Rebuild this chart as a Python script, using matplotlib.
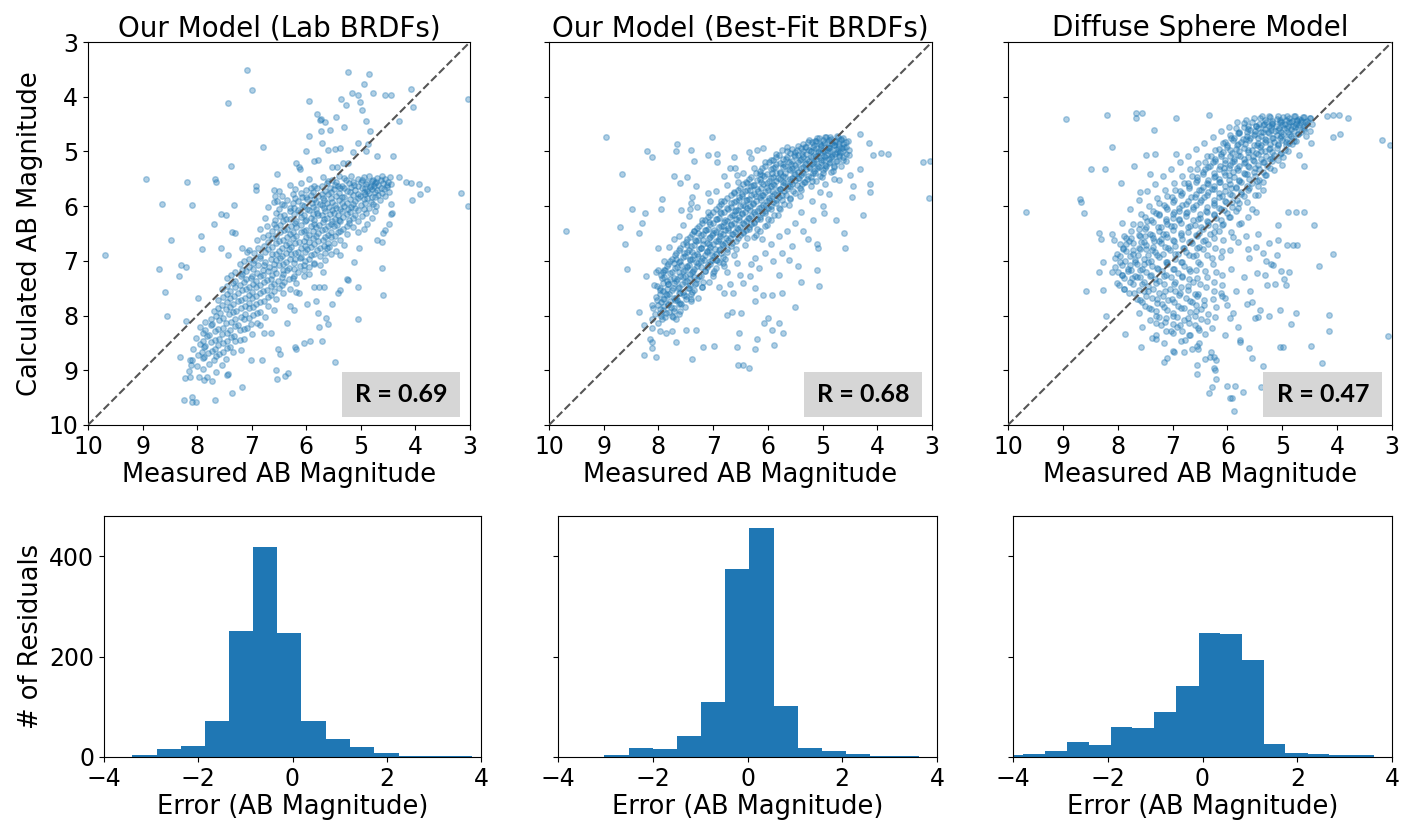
import numpy as np
import matplotlib
matplotlib.use('Agg')
from matplotlib import pyplot as plt
from matplotlib.patches import Rectangle

titles = ['Our Model (Lab BRDFs)', 'Our Model (Best-Fit BRDFs)', 'Diffuse Sphere Model']
r_values = ['0.69', '0.68', '0.47']
mag_ticks = [3, 4, 5, 6, 7, 8, 9, 10]
err_ticks = [-4, -2, 0, 2, 4]
count_ticks = [0, 200, 400]

# (measured, calculated) magnitudes
lab_pts = [
    (7.08, 3.52), (6.99, 3.87), (7.44, 4.12), (5.23, 3.54), (4.85, 3.58), (4.95, 3.77), (4.08, 3.86), (3.04, 4.04),
    (4.56, 3.96), (4.45, 3.96), (4.04, 4.18), (4.78, 3.93), (5.16, 3.93), (5.05, 3.97), (5.36, 4.05), (5.02, 4.10),
    (5.28, 4.16), (5.95, 4.07), (4.97, 4.24), (4.91, 4.44), (4.83, 4.63), (5.73, 4.40), (5.75, 4.43), (5.66, 4.46),
    (5.80, 4.31), (5.46, 4.37), (5.56, 4.60), (5.30, 4.55), (5.95, 4.72), (5.73, 4.63), (5.72, 4.85), (5.61, 4.98),
    (5.48, 4.96), (5.39, 4.94), (5.05, 4.84), (5.14, 5.01), (6.00, 5.00), (4.87, 4.86), (4.71, 5.08), (4.41, 5.08),
    (4.30, 4.44), (6.79, 4.91), (4.91, 5.00),
    (7.38, 5.27), (8.93, 5.50), (8.18, 5.55), (7.67, 5.50), (7.65, 5.55), (8.65, 5.96), (8.09, 5.97), (7.32, 5.97),
    (7.70, 6.32), (7.57, 6.14), (7.48, 6.17), (6.92, 5.63), (6.92, 5.71), (6.53, 5.41), (6.19, 5.22), (6.14, 5.29),
    (6.12, 5.32), (5.86, 5.18), (5.78, 5.16), (5.52, 5.29), (5.43, 5.29), (5.33, 5.22), (5.23, 5.22), (4.17, 5.56),
    (4.09, 5.57), (3.93, 5.59), (3.78, 5.68), (4.30, 5.47), (3.92, 5.78), (4.06, 5.89), (3.16, 5.76), (3.03, 6.00),
    (4.44, 5.96), (4.44, 6.14), (4.48, 6.32), (6.60, 5.71), (6.57, 5.82), (6.54, 5.91), (7.36, 6.48), (7.31, 6.49),
    (8.48, 6.62), (7.93, 6.55), (7.92, 6.79), (7.57, 6.77), (7.43, 6.90), (7.17, 6.77), (7.09, 6.83),
    (9.68, 6.90), (8.69, 7.15), (8.29, 7.07), (8.21, 7.11), (8.34, 7.28), (8.59, 7.57), (8.55, 8.01), (7.99, 7.68),
    (8.20, 8.10), (8.32, 8.76), (8.14, 8.81), (8.11, 8.90), (8.23, 9.15), (8.13, 9.12), (7.96, 9.12), (7.87, 9.17),
    (8.25, 9.54), (8.10, 9.58), (8.02, 9.58), (8.09, 9.48), (7.67, 9.54), (7.37, 9.42), (7.18, 9.31), (7.44, 9.06),
    (7.73, 9.20), (6.56, 8.99), (6.53, 9.16), (6.39, 9.11), (6.33, 9.05), (6.51, 8.62), (6.48, 8.71), (6.21, 8.57),
    (6.19, 8.61), (6.04, 8.50), (5.93, 8.46), (5.72, 8.46), (5.48, 8.85), (5.76, 8.21), (5.61, 8.15), (5.06, 8.06),
    (5.63, 8.04), (5.78, 7.95), (5.98, 7.78), (5.83, 7.74), (5.53, 7.78), (5.42, 7.59), (5.38, 7.54), (5.26, 7.34),
    (5.06, 7.48), (4.61, 7.13), (4.59, 7.63), (4.61, 6.65), (5.12, 7.03), (5.38, 6.90), (5.69, 7.21), (5.86, 7.47),
    (5.76, 7.47), (5.67, 7.47), (6.18, 7.57), (6.13, 7.59), (6.36, 8.14), (6.65, 8.31), (6.77, 8.31), (7.01, 8.81),
    (6.82, 8.81), (4.71, 6.62), (4.59, 6.49), (4.55, 6.43), (4.43, 6.13), (5.03, 6.77), (5.23, 7.35), (6.30, 7.82),
    (6.22, 7.90),
    (5.95, 5.50), (5.70, 5.46), (5.52, 5.52), (5.40, 5.45), (5.30, 5.49), (5.18, 5.44), (5.05, 5.51), (4.95, 5.47),
    (4.85, 5.45), (4.78, 5.52), (4.70, 5.48), (4.62, 5.44), (4.55, 5.50), (4.47, 5.46),
    (5.60, 5.54), (5.45, 5.56), (5.28, 5.53), (5.15, 5.55), (4.98, 5.53), (4.88, 5.56), (4.80, 5.54), (4.72, 5.55),
    (4.64, 5.53), (4.50, 5.55),
    (6.30, 5.62), (6.10, 5.58), (5.85, 5.63), (5.62, 5.57), (5.48, 5.61), (5.35, 5.64), (5.22, 5.58), (5.12, 5.62),
    (5.00, 5.56), (4.90, 5.60), (4.82, 5.63), (4.75, 5.58), (4.68, 5.61), (4.60, 5.57), (4.52, 5.62), (4.45, 5.59),
    (5.92, 5.66), (5.72, 5.64), (5.56, 5.66), (5.42, 5.63), (5.30, 5.67), (5.18, 5.65), (5.05, 5.64), (4.93, 5.66),
    (4.84, 5.65), (4.76, 5.64), (4.63, 5.66), (4.53, 5.65),
    (6.50, 5.72), (6.20, 5.68), (6.00, 5.71), (5.80, 5.67), (5.65, 5.73), (5.50, 5.69), (5.38, 5.66), (5.25, 5.72),
    (5.10, 5.70), (4.98, 5.67), (4.88, 5.73), (4.80, 5.69), (4.70, 5.71), (4.58, 5.68), (4.48, 5.74),
    (6.10, 5.76), (5.88, 5.74), (5.72, 5.77), (5.55, 5.75), (5.40, 5.76), (5.20, 5.74), (5.05, 5.77), (4.94, 5.75),
    (4.85, 5.76), (4.74, 5.74), (4.62, 5.76),
    (6.45, 5.81), (6.25, 5.78), (6.08, 5.83), (5.92, 5.79), (5.78, 5.82), (5.60, 5.77), (5.45, 5.81), (5.30, 5.84),
    (5.15, 5.79), (5.02, 5.82), (4.92, 5.78), (4.80, 5.83), (4.68, 5.80), (4.55, 5.82),
    (6.20, 5.86), (6.00, 5.84), (5.85, 5.87), (5.70, 5.85), (5.55, 5.86), (5.35, 5.84), (5.20, 5.87), (5.05, 5.85),
    (4.88, 5.86), (4.75, 5.84),
    (6.60, 5.92), (6.35, 5.88), (6.15, 5.91), (5.98, 5.87), (5.82, 5.93), (5.68, 5.89), (5.52, 5.92), (5.40, 5.88),
    (5.25, 5.94), (5.10, 5.90), (4.95, 5.87), (4.82, 5.92), (4.65, 5.89),
    (6.45, 5.96), (6.25, 5.94), (6.08, 5.97), (5.90, 5.95), (5.75, 5.96), (5.62, 5.94), (5.48, 5.97), (5.34, 5.95),
    (5.15, 5.96), (4.92, 5.94), (4.78, 5.96),
    (6.70, 6.01), (6.40, 5.98), (6.22, 6.03), (6.05, 5.99), (5.88, 6.02), (5.72, 5.97), (5.58, 6.01), (5.45, 6.04),
    (5.30, 5.99), (5.18, 6.02), (5.00, 5.98), (4.85, 6.03), (4.72, 6.00),
    (6.50, 6.06), (6.30, 6.04), (6.15, 6.07), (5.98, 6.05), (5.82, 6.06), (5.68, 6.04), (5.52, 6.07), (5.38, 6.05),
    (5.24, 6.06), (5.10, 6.04), (4.95, 6.06),
    (6.55, 6.12), (6.30, 6.08), (6.12, 6.11), (5.95, 6.07), (5.80, 6.13), (5.65, 6.09), (5.50, 6.12), (5.35, 6.08),
    (5.20, 6.11), (5.05, 6.07), (4.90, 6.12), (4.75, 6.09),
    (6.40, 6.16), (6.22, 6.14), (6.05, 6.17), (5.88, 6.15), (5.72, 6.16), (5.56, 6.14), (5.42, 6.17), (5.26, 6.15),
    (5.10, 6.16),
    (6.75, 6.21), (6.48, 6.18), (6.30, 6.23), (6.10, 6.19), (5.92, 6.22), (5.78, 6.17), (5.62, 6.21), (5.48, 6.24),
    (5.32, 6.19), (5.15, 6.22), (4.98, 6.18), (4.80, 6.21),
    (6.58, 6.26), (6.38, 6.24), (6.18, 6.27), (6.00, 6.25), (5.85, 6.26), (5.68, 6.24), (5.52, 6.27), (5.40, 6.25),
    (5.22, 6.26),
    (6.60, 6.32), (6.42, 6.28), (6.20, 6.31), (6.02, 6.27), (5.85, 6.33), (5.70, 6.29), (5.55, 6.32), (5.38, 6.28),
    (5.22, 6.31), (5.05, 6.27), (4.88, 6.32),
    (6.72, 6.36), (6.48, 6.34), (6.28, 6.37), (6.10, 6.35), (5.92, 6.36), (5.76, 6.34), (5.60, 6.37), (5.44, 6.35),
    (5.26, 6.36),
    (6.85, 6.41), (6.55, 6.38), (6.35, 6.42), (6.18, 6.39), (6.00, 6.43), (5.82, 6.38), (5.66, 6.41), (5.50, 6.37),
    (5.32, 6.42), (5.15, 6.39), (4.95, 6.41),
    (6.62, 6.46), (6.40, 6.44), (6.24, 6.47), (6.05, 6.45), (5.88, 6.46), (5.72, 6.44), (5.55, 6.47), (5.38, 6.45),
    (6.70, 6.52), (6.48, 6.48), (6.30, 6.51), (6.10, 6.47), (5.95, 6.53), (5.78, 6.49), (5.60, 6.52), (5.42, 6.48),
    (5.25, 6.51), (5.05, 6.47),
    (6.80, 6.56), (6.55, 6.54), (6.36, 6.57), (6.18, 6.55), (6.00, 6.56), (5.82, 6.54), (5.65, 6.57), (5.48, 6.55),
    (6.90, 6.61), (6.62, 6.58), (6.42, 6.62), (6.25, 6.59), (6.05, 6.63), (5.88, 6.58), (5.70, 6.61), (5.55, 6.57),
    (5.38, 6.62),
    (6.70, 6.66), (6.50, 6.64), (6.32, 6.67), (6.14, 6.65), (5.95, 6.66), (5.78, 6.64), (5.60, 6.67),
    (6.78, 6.72), (6.55, 6.68), (6.38, 6.71), (6.20, 6.67), (6.02, 6.73), (5.85, 6.69), (5.68, 6.72), (5.50, 6.68),
    (5.30, 6.71),
    (6.88, 6.76), (6.62, 6.74), (6.45, 6.77), (6.28, 6.75), (6.10, 6.76), (5.92, 6.74), (5.75, 6.77), (5.58, 6.75),
    (7.05, 6.81), (6.70, 6.78), (6.50, 6.82), (6.32, 6.79), (6.15, 6.83), (5.98, 6.78), (5.80, 6.81), (5.62, 6.77),
    (5.45, 6.82),
    (6.95, 6.86), (6.75, 6.84), (6.55, 6.87), (6.38, 6.85), (6.20, 6.86), (6.02, 6.84), (5.85, 6.87), (5.65, 6.85),
    (6.85, 6.92), (6.62, 6.88), (6.45, 6.91), (6.28, 6.87), (6.10, 6.93), (5.92, 6.89), (5.75, 6.92), (5.55, 6.88),
    (7.05, 6.96), (6.85, 6.94), (6.65, 6.97), (6.48, 6.95), (6.30, 6.96), (6.12, 6.94), (5.95, 6.97),
    (7.15, 7.01), (6.95, 6.98), (6.75, 7.03), (6.55, 6.99), (6.38, 7.02), (6.20, 6.97), (6.02, 7.01), (5.85, 7.04),
    (5.65, 6.99),
    (7.22, 7.06), (6.98, 7.04), (6.78, 7.07), (6.60, 7.05), (6.42, 7.06), (6.22, 7.04), (6.05, 7.07), (5.85, 7.05),
    (7.05, 7.12), (6.88, 7.08), (6.68, 7.11), (6.50, 7.07), (6.32, 7.13), (6.12, 7.09), (5.95, 7.12), (5.75, 7.08),
    (7.18, 7.16), (6.98, 7.14), (6.80, 7.17), (6.60, 7.15), (6.42, 7.16), (6.22, 7.14), (6.05, 7.17),
    (7.30, 7.21), (7.10, 7.18), (6.90, 7.23), (6.70, 7.19), (6.55, 7.22), (6.35, 7.17), (6.15, 7.21), (5.95, 7.24),
    (7.38, 7.26), (7.18, 7.24), (7.00, 7.27), (6.80, 7.25), (6.62, 7.26), (6.42, 7.24), (6.22, 7.27),
    (7.45, 7.32), (7.20, 7.28), (7.02, 7.31), (6.85, 7.27), (6.65, 7.33), (6.45, 7.29), (6.25, 7.32), (6.05, 7.28),
    (7.30, 7.36), (7.10, 7.34), (6.92, 7.37), (6.72, 7.35), (6.52, 7.36), (6.32, 7.34),
    (7.35, 7.41), (7.15, 7.38), (6.98, 7.42), (6.78, 7.39), (6.60, 7.43), (6.40, 7.38), (6.18, 7.41),
    (7.45, 7.46), (7.22, 7.44), (7.05, 7.47), (6.85, 7.45), (6.65, 7.46), (6.45, 7.44),
    (7.55, 7.52), (7.30, 7.48), (7.10, 7.51), (6.92, 7.47), (6.72, 7.53), (6.50, 7.49), (6.30, 7.52),
    (7.40, 7.56), (7.18, 7.54), (7.00, 7.57), (6.80, 7.55), (6.60, 7.56),
    (7.45, 7.61), (7.25, 7.58), (7.05, 7.62), (6.85, 7.59), (6.65, 7.63), (6.42, 7.58),
    (7.52, 7.66), (7.32, 7.64), (7.12, 7.67), (6.92, 7.65), (6.70, 7.66),
    (7.62, 7.72), (7.40, 7.68), (7.20, 7.71), (7.00, 7.67), (6.78, 7.73), (6.55, 7.69),
    (7.45, 7.76), (7.25, 7.74), (7.05, 7.77), (6.85, 7.75),
    (7.55, 7.81), (7.35, 7.78), (7.12, 7.82), (6.92, 7.79), (6.70, 7.83),
    (7.62, 7.86), (7.40, 7.84), (7.20, 7.87), (6.98, 7.85),
    (7.70, 7.92), (7.48, 7.88), (7.28, 7.91), (7.05, 7.87), (6.85, 7.93), (6.60, 7.89),
    (7.58, 7.96), (7.35, 7.94), (7.12, 7.97), (6.90, 7.95),
    (7.65, 8.01), (7.42, 7.98), (7.20, 8.03), (6.98, 7.99), (6.75, 8.02),
    (7.75, 8.06), (7.52, 8.04), (7.30, 8.07), (7.05, 8.05),
    (7.85, 8.12), (7.60, 8.08), (7.38, 8.11), (7.15, 8.07), (6.90, 8.13),
    (7.72, 8.16), (7.48, 8.14), (7.25, 8.17), (7.02, 8.15),
    (7.95, 8.21), (7.75, 8.18), (7.52, 8.23), (7.30, 8.19), (7.08, 8.22), (6.85, 8.17),
    (7.85, 8.26), (7.62, 8.24), (7.40, 8.27), (7.15, 8.25),
    (7.90, 8.32), (7.68, 8.28), (7.45, 8.31), (7.22, 8.27), (7.00, 8.33),
    (7.78, 8.36), (7.55, 8.34), (7.32, 8.37),
    (8.02, 8.41), (7.82, 8.38), (7.60, 8.42), (7.38, 8.39), (7.15, 8.43),
    (7.90, 8.46), (7.68, 8.44), (7.45, 8.47), (7.22, 8.45),
    (7.95, 8.52), (7.75, 8.48), (7.52, 8.51), (7.30, 8.47),
    (7.85, 8.56), (7.62, 8.54), (7.40, 8.57),
    (8.08, 8.61), (7.88, 8.58), (7.68, 8.62), (7.45, 8.59), (7.20, 8.63),
    (7.92, 8.66), (7.72, 8.64), (7.52, 8.67),
    (7.98, 8.72), (7.80, 8.68), (7.60, 8.71), (7.35, 8.67),
    (7.88, 8.76), (7.65, 8.74),
    (8.10, 8.81), (7.90, 8.78), (7.70, 8.82), (7.48, 8.79),
    (8.00, 8.92), (7.78, 8.88), (7.55, 8.91),
    (8.15, 9.01), (7.90, 8.98), (7.65, 9.03),
    (7.82, 9.12), (7.45, 9.08),
]

fit_pts = [
    (8.95, 4.73), (9.69, 6.46), (8.67, 5.41), (8.20, 5.00), (8.12, 5.10), (7.66, 4.86), (7.68, 4.99), (7.41, 4.97),
    (7.02, 4.74), (7.10, 5.06), (6.93, 5.05), (6.93, 5.20), (7.35, 5.18), (6.62, 5.11), (6.60, 5.30), (6.57, 5.43),
    (6.34, 5.01), (6.20, 4.97), (6.08, 4.94), (7.71, 5.45), (7.60, 5.57), (7.48, 5.46), (7.32, 5.64), (7.09, 5.76),
    (7.39, 5.84), (7.59, 6.07), (7.42, 6.05), (7.93, 5.87), (7.95, 6.05), (8.49, 6.05), (8.24, 6.12), (8.30, 6.30),
    (8.35, 6.49), (8.71, 6.39), (8.61, 6.70), (8.58, 7.15), (8.00, 6.77), (8.00, 7.16), (8.23, 7.27), (8.35, 7.93),
    (8.12, 7.80), (8.26, 8.18), (8.11, 8.23), (8.15, 8.43), (8.11, 8.48), (8.12, 8.60), (8.26, 8.72), (8.04, 8.76),
    (7.98, 8.29), (7.86, 8.32), (7.76, 8.29), (7.68, 8.49), (7.39, 8.80), (7.50, 8.26), (7.32, 8.26), (7.19, 8.58),
    (6.98, 8.55), (6.57, 8.58), (6.52, 8.32), (6.55, 8.90), (6.45, 8.90), (6.34, 8.96), (6.24, 8.62), (6.20, 8.43),
    (6.07, 8.14), (6.00, 8.05), (5.93, 8.26), (5.73, 8.32), (5.79, 8.14), (5.88, 8.54), (5.50, 7.84), (5.39, 7.39),
    (5.10, 7.16), (5.07, 7.46), (5.10, 6.70), (5.09, 6.77), (4.60, 6.49), (4.59, 6.77), (4.76, 6.25), (4.97, 6.13),
    (5.00, 6.00), (5.18, 6.26), (5.27, 6.60), (4.26, 6.16), (4.46, 5.84), (4.45, 5.64), (4.13, 5.59), (4.14, 5.74),
    (4.49, 5.43), (4.32, 5.32), (4.16, 4.84), (4.07, 5.06), (3.93, 5.03), (3.80, 5.04), (4.32, 4.68), (3.17, 5.20),
    (3.04, 5.18), (3.06, 5.85), (6.08, 7.62), (5.93, 7.62), (5.74, 7.59), (6.24, 7.50), (6.23, 7.74), (6.75, 7.99),
    (6.66, 7.93), (6.49, 7.96), (6.81, 7.59), (6.63, 7.59), (5.62, 6.98), (5.45, 7.10), (5.80, 7.25), (5.55, 6.72),
    (5.35, 6.45), (4.88, 5.78), (4.70, 5.52),
    (6.93, 6.98), (6.82, 7.04), (6.75, 7.20), (6.57, 7.04), (6.51, 7.25), (6.33, 7.28), (6.23, 6.95), (6.17, 7.13),
    (6.45, 7.40), (6.70, 7.42), (6.90, 7.48), (6.30, 7.05), (6.05, 6.85), (5.95, 6.70), (5.80, 6.55), (5.65, 6.45),
    (5.50, 6.30), (5.75, 6.85), (5.90, 7.00), (6.10, 6.60), (5.40, 6.10), (5.20, 5.90), (5.05, 5.75), (4.95, 5.60),
    (4.80, 5.50),
    (7.55, 6.35), (7.45, 6.18), (7.62, 6.55), (7.30, 6.02), (7.20, 6.25), (7.35, 6.45), (7.05, 5.90), (7.10, 6.10),
    (6.95, 5.72), (6.85, 5.90), (6.75, 5.62), (6.80, 5.45), (6.62, 5.75), (6.55, 5.55), (6.45, 5.40), (6.38, 5.58),
    (6.25, 5.30), (6.15, 5.42), (6.05, 5.20), (5.95, 5.15), (5.85, 5.05), (5.75, 4.98), (5.65, 4.92), (7.80, 6.75),
    (7.90, 7.00), (7.72, 6.60), (8.05, 7.20), (7.40, 5.95), (6.70, 5.30), (6.30, 5.12),
    (5.10, 4.76), (4.95, 4.73), (4.85, 4.77), (4.72, 4.74), (4.62, 4.76),
    (5.25, 4.80), (5.12, 4.81), (5.00, 4.79), (4.88, 4.80), (4.78, 4.81), (4.66, 4.79),
    (5.35, 4.86), (5.20, 4.83), (5.05, 4.87), (4.92, 4.84), (4.80, 4.88), (4.70, 4.85), (4.58, 4.83),
    (5.45, 4.90), (5.30, 4.91), (5.15, 4.89), (5.02, 4.90), (4.90, 4.91), (4.80, 4.89), (4.70, 4.90), (4.60, 4.91),
    (5.55, 4.96), (5.40, 4.93), (5.25, 4.97), (5.12, 4.94), (5.00, 4.98), (4.88, 4.93), (4.76, 4.96), (4.65, 4.94),
    (4.52, 4.97),
    (5.65, 5.00), (5.50, 5.01), (5.35, 4.99), (5.22, 5.00), (5.08, 5.01), (4.98, 4.99), (4.86, 5.00), (4.74, 5.01),
    (4.62, 4.99),
    (5.80, 5.06), (5.60, 5.03), (5.45, 5.07), (5.30, 5.04), (5.18, 5.08), (5.05, 5.03), (4.94, 5.06), (4.82, 5.04),
    (4.70, 5.07), (4.58, 5.05),
    (5.85, 5.10), (5.65, 5.11), (5.50, 5.09), (5.35, 5.10), (5.22, 5.11), (5.08, 5.09), (4.96, 5.10), (4.84, 5.11),
    (4.70, 5.09),
    (5.90, 5.16), (5.72, 5.13), (5.55, 5.17), (5.40, 5.14), (5.25, 5.18), (5.12, 5.13), (5.00, 5.16), (4.88, 5.14),
    (4.75, 5.17), (4.62, 5.15),
    (5.98, 5.20), (5.78, 5.21), (5.62, 5.19), (5.45, 5.20), (5.30, 5.21), (5.15, 5.19), (5.02, 5.20), (4.88, 5.21),
    (6.05, 5.26), (5.85, 5.23), (5.68, 5.27), (5.50, 5.24), (5.35, 5.28), (5.20, 5.23), (5.08, 5.26), (4.95, 5.24),
    (4.80, 5.27),
    (6.10, 5.30), (5.90, 5.31), (5.72, 5.29), (5.55, 5.30), (5.40, 5.31), (5.25, 5.29), (5.10, 5.30), (4.95, 5.31),
    (6.15, 5.36), (5.95, 5.33), (5.78, 5.37), (5.60, 5.34), (5.45, 5.38), (5.30, 5.33), (5.15, 5.36), (5.00, 5.34),
    (4.85, 5.37),
    (6.22, 5.40), (6.02, 5.41), (5.85, 5.39), (5.68, 5.40), (5.50, 5.41), (5.35, 5.39), (5.18, 5.40),
    (6.30, 5.46), (6.10, 5.43), (5.90, 5.47), (5.72, 5.44), (5.55, 5.48), (5.40, 5.43), (5.22, 5.46), (5.05, 5.44),
    (6.35, 5.50), (6.15, 5.51), (5.95, 5.49), (5.78, 5.50), (5.60, 5.51), (5.45, 5.49), (5.28, 5.50),
    (6.40, 5.56), (6.20, 5.53), (6.02, 5.57), (5.85, 5.54), (5.68, 5.58), (5.50, 5.53), (5.32, 5.56), (5.12, 5.54),
    (6.45, 5.60), (6.25, 5.61), (6.08, 5.59), (5.90, 5.60), (5.72, 5.61), (5.55, 5.59), (5.38, 5.60),
    (6.50, 5.66), (6.30, 5.63), (6.12, 5.67), (5.95, 5.64), (5.78, 5.68), (5.60, 5.63), (5.42, 5.66),
    (6.55, 5.70), (6.38, 5.71), (6.20, 5.69), (6.00, 5.70), (5.82, 5.71), (5.65, 5.69),
    (6.62, 5.76), (6.42, 5.73), (6.25, 5.77), (6.05, 5.74), (5.88, 5.78), (5.70, 5.73), (5.50, 5.76),
    (6.68, 5.80), (6.48, 5.81), (6.30, 5.79), (6.10, 5.80), (5.92, 5.81), (5.75, 5.79),
    (6.75, 5.86), (6.52, 5.83), (6.35, 5.87), (6.15, 5.84), (5.98, 5.88), (5.80, 5.83), (5.60, 5.86),
    (6.80, 5.90), (6.58, 5.91), (6.40, 5.89), (6.22, 5.90), (6.02, 5.91), (5.85, 5.89),
    (6.85, 5.96), (6.62, 5.93), (6.45, 5.97), (6.28, 5.94), (6.08, 5.98), (5.90, 5.93), (5.70, 5.96),
    (6.90, 6.00), (6.68, 6.01), (6.50, 5.99), (6.32, 6.00), (6.12, 6.01), (5.95, 5.99),
    (6.95, 6.06), (6.75, 6.03), (6.55, 6.07), (6.38, 6.04), (6.20, 6.08), (6.00, 6.03), (5.78, 6.06),
    (7.00, 6.10), (6.80, 6.11), (6.60, 6.09), (6.42, 6.10), (6.25, 6.11), (6.05, 6.09),
    (7.05, 6.16), (6.85, 6.13), (6.65, 6.17), (6.48, 6.14), (6.30, 6.18), (6.10, 6.13), (5.88, 6.16),
    (7.10, 6.20), (6.90, 6.21), (6.70, 6.19), (6.52, 6.20), (6.35, 6.21), (6.15, 6.19),
    (7.15, 6.26), (6.95, 6.23), (6.75, 6.27), (6.58, 6.24), (6.40, 6.28), (6.20, 6.23), (5.95, 6.26),
    (7.20, 6.30), (7.00, 6.31), (6.80, 6.29), (6.62, 6.30), (6.45, 6.31), (6.25, 6.29),
    (7.25, 6.36), (7.05, 6.33), (6.85, 6.37), (6.68, 6.34), (6.50, 6.38), (6.30, 6.33), (6.05, 6.36),
    (7.30, 6.40), (7.10, 6.41), (6.90, 6.39), (6.72, 6.40), (6.55, 6.41), (6.35, 6.39),
    (7.35, 6.46), (7.15, 6.43), (6.95, 6.47), (6.78, 6.44), (6.60, 6.48), (6.40, 6.43), (6.15, 6.46),
    (7.38, 6.50), (7.18, 6.51), (7.00, 6.49), (6.82, 6.50), (6.65, 6.51), (6.45, 6.49),
    (7.42, 6.56), (7.22, 6.53), (7.05, 6.57), (6.88, 6.54), (6.70, 6.58), (6.50, 6.53), (6.25, 6.56),
    (7.48, 6.60), (7.28, 6.61), (7.08, 6.59), (6.90, 6.60), (6.72, 6.61),
    (7.50, 6.66), (7.32, 6.63), (7.12, 6.67), (6.95, 6.64), (6.78, 6.68), (6.58, 6.63),
    (7.55, 6.70), (7.35, 6.71), (7.18, 6.69), (7.00, 6.70), (6.82, 6.71),
    (7.60, 6.76), (7.40, 6.73), (7.22, 6.77), (7.05, 6.74), (6.88, 6.78), (6.68, 6.73),
    (7.62, 6.80), (7.45, 6.81), (7.25, 6.79), (7.08, 6.80), (6.90, 6.81),
    (7.68, 6.86), (7.48, 6.83), (7.30, 6.87), (7.12, 6.84), (6.95, 6.88), (6.75, 6.83),
    (7.70, 6.90), (7.52, 6.91), (7.35, 6.89), (7.15, 6.90), (6.98, 6.91),
    (7.75, 6.96), (7.55, 6.93), (7.38, 6.97), (7.20, 6.94), (7.02, 6.98), (6.82, 6.93),
    (7.78, 7.00), (7.60, 7.01), (7.42, 6.99), (7.22, 7.00), (7.05, 7.01),
    (7.82, 7.06), (7.62, 7.03), (7.45, 7.07), (7.28, 7.04), (7.10, 7.08), (6.90, 7.03),
    (7.85, 7.10), (7.66, 7.11), (7.48, 7.09), (7.30, 7.10), (7.12, 7.11),
    (7.90, 7.16), (7.70, 7.13), (7.52, 7.17), (7.35, 7.14), (7.15, 7.18), (6.95, 7.13),
    (7.92, 7.20), (7.75, 7.21), (7.55, 7.19), (7.38, 7.20),
    (7.95, 7.26), (7.78, 7.23), (7.60, 7.27), (7.42, 7.24), (7.22, 7.28), (7.00, 7.23),
    (7.90, 7.30), (7.72, 7.31), (7.55, 7.29), (7.35, 7.30),
    (7.85, 7.36), (7.66, 7.33), (7.48, 7.37), (7.30, 7.34), (7.08, 7.38),
    (7.92, 7.40), (7.72, 7.41), (7.52, 7.39), (7.32, 7.40),
    (8.02, 7.46), (7.82, 7.43), (7.62, 7.47), (7.42, 7.44), (7.20, 7.48),
    (7.98, 7.50), (7.85, 7.51), (7.65, 7.49), (7.45, 7.50),
    (7.92, 7.56), (7.75, 7.53), (7.55, 7.57), (7.35, 7.54),
    (7.98, 7.60), (7.80, 7.61), (7.60, 7.59), (7.40, 7.60),
    (8.05, 7.66), (7.85, 7.63), (7.68, 7.67), (7.50, 7.64), (7.28, 7.68),
    (7.90, 7.70), (7.70, 7.71), (7.50, 7.69),
    (7.95, 7.76), (7.78, 7.73), (7.60, 7.77), (7.40, 7.74),
    (8.00, 7.80), (7.82, 7.81), (7.62, 7.79),
    (8.10, 7.86), (7.90, 7.83), (7.72, 7.87), (7.52, 7.84),
    (7.92, 7.90), (7.72, 7.91),
    (7.98, 7.96), (7.80, 7.93), (7.62, 7.97),
    (7.95, 8.00), (7.75, 8.01),
    (8.12, 8.06), (7.88, 8.03), (7.68, 8.07),
    (8.08, 7.45), (8.02, 7.71), (8.06, 7.97), (8.01, 8.14),
    (7.93, 7.31), (7.98, 7.54), (7.91, 7.69), (7.97, 7.88), (7.94, 8.07),
    (7.88, 7.17), (7.82, 7.43), (7.87, 7.60), (7.83, 7.78), (7.86, 7.96),
    (7.72, 7.04), (7.78, 7.34), (7.74, 7.49), (7.71, 7.67), (7.77, 7.85), (7.73, 8.03),
    (7.67, 6.97), (7.62, 7.21), (7.68, 7.37), (7.63, 7.58), (7.66, 7.72), (7.61, 7.92),
    (7.53, 6.86), (7.58, 7.07), (7.52, 7.28), (7.57, 7.43), (7.54, 7.63), (7.59, 7.79),
    (7.47, 6.71), (7.42, 6.96), (7.48, 7.11), (7.43, 7.32), (7.46, 7.49), (7.41, 7.70),
    (7.33, 6.61), (7.38, 6.83), (7.32, 7.03), (7.37, 7.19), (7.34, 7.42), (7.39, 7.57),
    (7.27, 6.49), (7.22, 6.77), (7.28, 6.91), (7.23, 7.11), (7.26, 7.27), (7.21, 7.48),
    (7.13, 6.43), (7.18, 6.62), (7.12, 6.82), (7.17, 6.98), (7.14, 7.19), (7.19, 7.38),
    (7.07, 6.29), (7.02, 6.53), (7.08, 6.69), (7.03, 6.89), (7.06, 7.05), (7.01, 7.28),
    (6.93, 6.23), (6.98, 6.44), (6.92, 6.63), (6.97, 6.79), (6.94, 6.98), (6.99, 7.19),
    (6.87, 6.11), (6.82, 6.36), (6.88, 6.49), (6.83, 6.70), (6.86, 6.85), (6.81, 7.09),
    (6.73, 6.06), (6.78, 6.25), (6.72, 6.44), (6.77, 6.59), (6.74, 6.79), (6.79, 6.96),
    (6.67, 5.94), (6.62, 6.17), (6.68, 6.32), (6.63, 6.51), (6.66, 6.67), (6.61, 6.89),
    (6.53, 5.89), (6.58, 6.07), (6.52, 6.26), (6.57, 6.40), (6.54, 6.59), (6.59, 6.78),
    (6.47, 5.77), (6.42, 5.99), (6.48, 6.13), (6.43, 6.33), (6.46, 6.48), (6.41, 6.71),
    (6.33, 5.71), (6.38, 5.89), (6.32, 6.07), (6.37, 6.22), (6.34, 6.41), (6.39, 6.59),
    (6.27, 5.61), (6.22, 5.81), (6.28, 5.96), (6.23, 6.15), (6.26, 6.31), (6.21, 6.52),
    (6.13, 5.56), (6.18, 5.72), (6.12, 5.89), (6.17, 6.04), (6.14, 6.23), (6.19, 6.41),
    (6.07, 5.44), (6.02, 5.65), (6.08, 5.79), (6.03, 5.97), (6.06, 6.13), (6.01, 6.34),
    (5.93, 5.39), (5.98, 5.54), (5.92, 5.73), (5.97, 5.86), (5.94, 6.06), (5.99, 6.24),
    (5.87, 5.29), (5.82, 5.49), (5.88, 5.62), (5.83, 5.80), (5.86, 5.95), (5.81, 6.16),
    (5.73, 5.23), (5.78, 5.39), (5.72, 5.56), (5.77, 5.69), (5.74, 5.89), (5.79, 6.04),
    (5.67, 5.14), (5.62, 5.33), (5.68, 5.46), (5.63, 5.63), (5.66, 5.79), (5.61, 5.98),
    (5.53, 5.06), (5.58, 5.23), (5.52, 5.41), (5.57, 5.54), (5.54, 5.73), (5.59, 5.87),
    (5.47, 4.97), (5.42, 5.16), (5.48, 5.31), (5.43, 5.48), (5.46, 5.62), (5.41, 5.81),
    (5.33, 4.91), (5.38, 5.05), (5.32, 5.23), (5.37, 5.38), (5.34, 5.56), (5.39, 5.71),
    (5.27, 4.83), (5.22, 4.99), (5.28, 5.13), (5.23, 5.31), (5.26, 5.45), (5.21, 5.63),
    (5.13, 4.81), (5.18, 4.91), (5.12, 5.08), (5.17, 5.21), (5.14, 5.39), (5.19, 5.54),
    (5.07, 4.75), (5.02, 4.89), (5.08, 4.99), (5.03, 5.16), (5.06, 5.29), (5.01, 5.47),
    (4.93, 4.74), (4.98, 4.84), (4.92, 4.98), (4.97, 5.09), (4.94, 5.26), (4.99, 5.39),
    (4.87, 4.73), (4.82, 4.85), (4.88, 4.94), (4.83, 5.08), (4.86, 5.19), (4.81, 5.36),
    (4.73, 4.71), (4.78, 4.82), (4.72, 4.95), (4.77, 5.04), (4.74, 5.17), (4.79, 5.29),
    (4.67, 4.77), (4.62, 4.87), (4.68, 5.01), (4.63, 5.11), (4.66, 5.26),
    (4.53, 4.81), (4.58, 4.92), (4.52, 5.06), (4.57, 5.17),
]

sphere_pts = [
    (8.95, 4.41), (8.19, 4.33), (7.67, 4.30), (7.66, 4.39), (7.55, 4.30), (6.94, 4.39), (6.34, 4.34), (7.33, 4.60),
    (8.11, 4.91), (7.49, 5.06), (7.32, 5.04), (6.94, 5.05), (8.49, 5.32), (8.23, 5.32), (7.70, 5.26), (7.41, 5.41),
    (7.94, 5.58), (7.60, 5.75), (8.69, 5.87), (8.67, 5.93), (8.61, 6.13), (9.68, 6.10), (8.35, 6.49), (8.30, 6.60),
    (8.10, 6.51), (8.26, 7.03), (8.34, 7.20), (8.11, 7.20), (8.57, 7.55), (8.27, 7.53), (8.22, 8.01), (7.86, 8.34),
    (7.58, 8.57), (7.38, 8.41), (7.31, 8.43), (7.16, 8.84), (7.11, 8.78), (6.98, 8.66), (6.80, 8.66), (6.78, 8.45),
    (6.56, 8.55), (6.54, 8.61), (6.41, 8.79), (6.32, 8.75), (6.25, 8.75), (6.21, 8.81), (6.24, 8.96), (6.23, 9.00),
    (6.55, 8.90), (6.55, 9.07), (6.21, 9.16), (6.28, 9.30), (6.33, 9.41), (6.01, 9.28), (5.86, 9.29), (5.72, 9.40),
    (5.95, 9.51), (5.92, 9.51), (5.88, 9.74), (5.77, 8.45), (5.77, 8.49), (5.60, 8.60), (5.38, 9.30), (5.55, 8.77),
    (5.35, 8.93), (5.05, 8.57), (4.99, 8.57), (4.47, 8.55), (4.28, 8.87), (4.14, 7.99), (4.14, 8.29), (3.07, 8.38),
    (4.07, 6.87), (4.33, 7.09), (4.75, 6.11), (4.60, 6.11), (4.42, 6.35), (4.60, 5.26), (4.69, 5.07), (4.47, 4.85),
    (4.07, 4.73), (3.94, 4.68), (4.19, 4.36), (4.08, 4.34), (3.96, 4.34), (3.81, 4.39), (3.18, 4.80), (3.03, 4.88),
    (5.08, 6.35), (4.89, 6.11), (5.08, 6.62), (4.92, 6.71), (4.81, 6.71), (4.74, 6.71), (5.25, 6.68), (5.36, 6.86),
    (5.20, 7.05), (5.17, 7.08), (5.32, 7.25), (5.47, 7.22), (5.14, 7.42), (4.93, 7.45), (4.96, 7.33), (5.58, 7.55),
    (5.65, 7.78), (5.40, 7.90), (5.50, 8.05), (5.05, 7.90), (4.75, 7.95), (4.85, 8.15), (5.25, 8.00), (5.80, 8.20),
    (5.95, 8.05), (6.05, 8.35), (5.10, 6.90), (5.45, 6.50), (5.60, 6.95), (5.70, 7.30), (5.85, 7.55), (5.90, 7.95),
    (6.00, 7.80), (6.10, 7.65), (5.62, 6.78), (5.48, 6.75), (5.30, 7.00), (5.02, 7.18), (4.88, 7.20), (5.28, 7.44),
    (5.55, 7.75), (5.45, 8.02),
    (5.40, 4.38), (5.25, 4.36), (5.10, 4.40), (4.98, 4.37), (4.88, 4.39), (4.78, 4.36), (4.70, 4.40), (4.60, 4.37),
    (4.50, 4.39),
    (5.32, 4.43), (5.18, 4.44), (5.04, 4.42), (4.93, 4.43), (4.83, 4.44), (4.74, 4.42), (4.65, 4.43), (4.55, 4.44),
    (5.70, 4.48), (5.55, 4.46), (5.42, 4.50), (5.30, 4.47), (5.18, 4.49), (5.05, 4.46), (4.95, 4.50), (4.85, 4.47),
    (4.75, 4.49), (4.65, 4.46), (4.55, 4.50),
    (5.62, 4.53), (5.48, 4.54), (5.36, 4.52), (5.24, 4.53), (5.12, 4.54), (5.00, 4.52), (4.90, 4.53), (4.80, 4.54),
    (4.70, 4.52), (4.60, 4.53),
    (5.85, 4.58), (5.70, 4.56), (5.58, 4.60), (5.45, 4.57), (5.32, 4.59), (5.20, 4.56), (5.08, 4.60), (4.96, 4.57),
    (4.84, 4.59), (4.72, 4.56), (4.60, 4.60),
    (5.78, 4.64), (5.64, 4.65), (5.50, 4.63), (5.38, 4.64), (5.26, 4.65), (5.14, 4.63), (5.02, 4.64), (4.90, 4.65),
    (4.78, 4.63), (4.66, 4.64),
    (5.95, 4.70), (5.80, 4.67), (5.65, 4.71), (5.50, 4.68), (5.38, 4.72), (5.25, 4.67), (5.10, 4.70), (4.98, 4.68),
    (4.85, 4.72), (4.72, 4.69),
    (5.88, 4.76), (5.72, 4.77), (5.58, 4.75), (5.44, 4.76), (5.32, 4.77), (5.18, 4.75), (5.04, 4.76), (4.92, 4.77),
    (4.80, 4.75),
    (6.05, 4.82), (5.90, 4.79), (5.75, 4.83), (5.60, 4.80), (5.45, 4.84), (5.30, 4.79), (5.15, 4.82), (5.00, 4.80),
    (4.88, 4.84), (4.75, 4.81),
    (6.00, 4.88), (5.82, 4.89), (5.68, 4.87), (5.52, 4.88), (5.38, 4.89), (5.22, 4.87), (5.08, 4.88), (4.94, 4.89),
    (4.82, 4.87),
    (6.15, 4.95), (6.00, 4.92), (5.85, 4.96), (5.70, 4.93), (5.55, 4.97), (5.40, 4.92), (5.25, 4.95), (5.10, 4.93),
    (4.95, 4.97),
    (6.08, 5.01), (5.92, 5.02), (5.78, 5.00), (5.62, 5.01), (5.48, 5.02), (5.32, 5.00), (5.18, 5.01), (5.02, 5.02),
    (6.30, 5.08), (6.12, 5.05), (5.95, 5.09), (5.80, 5.06), (5.62, 5.10), (5.45, 5.05), (5.30, 5.08), (5.15, 5.06),
    (4.98, 5.10),
    (6.22, 5.14), (6.04, 5.15), (5.88, 5.13), (5.70, 5.14), (5.54, 5.15), (5.38, 5.13), (5.22, 5.14), (5.08, 5.15),
    (6.40, 5.20), (6.22, 5.17), (6.05, 5.21), (5.88, 5.18), (5.70, 5.22), (5.52, 5.17), (5.35, 5.20), (5.18, 5.18),
    (6.32, 5.26), (6.14, 5.27), (5.96, 5.25), (5.78, 5.26), (5.62, 5.27), (5.44, 5.25), (5.28, 5.26),
    (6.55, 5.32), (6.35, 5.29), (6.15, 5.33), (5.98, 5.30), (5.80, 5.34), (5.60, 5.29), (5.42, 5.32), (5.22, 5.30),
    (6.45, 5.38), (6.25, 5.39), (6.06, 5.37), (5.90, 5.38), (5.70, 5.39), (5.52, 5.37), (5.35, 5.38),
    (6.65, 5.45), (6.45, 5.42), (6.25, 5.46), (6.05, 5.43), (5.88, 5.47), (5.68, 5.42), (5.50, 5.45), (5.30, 5.43),
    (6.55, 5.52), (6.35, 5.53), (6.15, 5.51), (5.98, 5.52), (5.78, 5.53), (5.60, 5.51), (5.42, 5.52),
    (6.80, 5.58), (6.58, 5.55), (6.35, 5.59), (6.15, 5.56), (5.95, 5.60), (5.75, 5.55), (5.55, 5.58), (5.35, 5.56),
    (6.70, 5.64), (6.45, 5.65), (6.25, 5.63), (6.05, 5.64), (5.85, 5.65), (5.65, 5.63), (5.45, 5.64),
    (6.95, 5.70), (6.70, 5.67), (6.48, 5.71), (6.25, 5.68), (6.05, 5.72), (5.85, 5.67), (5.62, 5.70),
    (6.82, 5.76), (6.58, 5.77), (6.36, 5.75), (6.15, 5.76), (5.95, 5.77), (5.75, 5.75),
    (7.10, 5.82), (6.85, 5.79), (6.60, 5.83), (6.38, 5.80), (6.15, 5.84), (5.92, 5.79), (5.70, 5.82), (5.45, 5.80),
    (6.98, 5.89), (6.72, 5.90), (6.48, 5.88), (6.25, 5.89), (6.05, 5.90), (5.82, 5.88),
    (7.25, 5.95), (7.00, 5.92), (6.75, 5.96), (6.50, 5.93), (6.25, 5.97), (6.02, 5.92), (5.78, 5.95),
    (7.12, 6.02), (6.88, 6.03), (6.62, 6.01), (6.38, 6.02), (6.15, 6.03), (5.92, 6.01),
    (7.35, 6.08), (7.10, 6.05), (6.88, 6.09), (6.62, 6.06), (6.38, 6.10), (6.12, 6.05), (5.85, 6.08), (5.55, 6.06),
    (7.25, 6.14), (7.00, 6.15), (6.75, 6.13), (6.50, 6.14), (6.25, 6.15), (6.00, 6.13),
    (7.50, 6.20), (7.25, 6.17), (7.00, 6.21), (6.75, 6.18), (6.50, 6.22), (6.25, 6.17), (5.98, 6.20),
    (7.40, 6.26), (7.12, 6.27), (6.88, 6.25), (6.62, 6.26), (6.38, 6.27), (6.12, 6.25),
    (7.60, 6.32), (7.35, 6.29), (7.10, 6.33), (6.85, 6.30), (6.60, 6.34), (6.35, 6.29), (6.08, 6.32), (5.75, 6.30),
    (7.48, 6.38), (7.22, 6.39), (6.98, 6.37), (6.72, 6.38), (6.48, 6.39), (6.22, 6.37),
    (7.75, 6.45), (7.50, 6.42), (7.25, 6.46), (7.00, 6.43), (6.72, 6.47), (6.45, 6.42), (6.15, 6.45),
    (7.62, 6.52), (7.38, 6.53), (7.12, 6.51), (6.85, 6.52), (6.58, 6.53), (6.32, 6.51),
    (7.85, 6.58), (7.60, 6.55), (7.35, 6.59), (7.10, 6.56), (6.82, 6.60), (6.55, 6.55), (6.25, 6.58), (5.90, 6.56),
    (7.80, 6.64), (7.52, 6.65), (7.25, 6.63), (6.98, 6.64), (6.70, 6.65), (6.45, 6.63),
    (7.95, 6.70), (7.72, 6.67), (7.48, 6.71), (7.22, 6.68), (6.95, 6.72), (6.65, 6.67), (6.35, 6.70),
    (7.90, 6.76), (7.62, 6.77), (7.35, 6.75), (7.08, 6.76), (6.80, 6.77), (6.52, 6.75),
    (7.85, 6.82), (7.60, 6.79), (7.32, 6.83), (7.05, 6.80), (6.75, 6.84), (6.45, 6.79), (6.10, 6.82),
    (7.72, 6.88), (7.45, 6.89), (7.18, 6.87), (6.90, 6.88), (6.58, 6.89),
    (8.05, 6.95), (7.78, 6.92), (7.52, 6.96), (7.25, 6.93), (6.95, 6.97), (6.62, 6.92), (6.28, 6.95),
    (7.95, 7.02), (7.68, 7.03), (7.40, 7.01), (7.12, 7.02), (6.82, 7.03),
    (7.92, 7.08), (7.65, 7.05), (7.38, 7.09), (7.10, 7.06), (6.80, 7.10), (6.50, 7.05),
    (7.82, 7.14), (7.55, 7.15), (7.28, 7.13), (6.98, 7.14), (6.70, 7.15),
    (8.00, 7.20), (7.75, 7.17), (7.48, 7.21), (7.20, 7.18), (6.90, 7.22), (6.58, 7.17), (6.20, 7.20),
    (7.92, 7.26), (7.68, 7.27), (7.40, 7.25), (7.12, 7.26), (6.82, 7.27),
    (7.88, 7.32), (7.60, 7.29), (7.32, 7.33), (7.02, 7.30), (6.70, 7.34), (6.38, 7.29),
    (7.78, 7.38), (7.52, 7.39), (7.25, 7.37), (6.95, 7.38), (6.62, 7.39),
    (7.98, 7.45), (7.72, 7.42), (7.45, 7.46), (7.15, 7.43), (6.85, 7.47), (6.50, 7.42), (6.10, 7.45),
    (7.88, 7.52), (7.62, 7.53), (7.35, 7.51), (7.05, 7.52), (6.72, 7.53),
    (7.80, 7.58), (7.52, 7.55), (7.25, 7.59), (6.95, 7.56), (6.60, 7.60), (6.25, 7.55),
    (7.48, 7.64), (7.18, 7.65), (6.88, 7.63), (6.55, 7.64),
    (7.65, 7.70), (7.38, 7.67), (7.08, 7.71), (6.75, 7.68), (6.42, 7.72), (6.05, 7.67),
    (7.55, 7.76), (7.28, 7.77), (6.98, 7.75), (6.65, 7.76),
    (7.50, 7.82), (7.20, 7.79), (6.90, 7.83), (6.58, 7.80), (6.20, 7.84),
    (7.40, 7.88), (7.10, 7.89), (6.80, 7.87), (6.48, 7.88),
    (7.62, 7.95), (7.30, 7.92), (7.00, 7.96), (6.68, 7.93), (6.35, 7.97),
    (7.25, 8.02), (6.92, 8.03), (6.60, 8.01),
    (7.42, 8.08), (7.12, 8.05), (6.80, 8.09), (6.48, 8.06),
    (7.30, 8.14), (7.00, 8.15), (6.70, 8.13),
    (7.55, 8.20), (7.22, 8.17), (6.92, 8.21), (6.60, 8.18), (6.28, 8.22),
    (7.12, 8.28), (6.82, 8.29), (6.52, 8.27),
    (7.30, 8.35), (7.00, 8.32), (6.70, 8.36), (6.40, 8.33),
    (7.15, 8.50), (6.85, 8.47), (6.52, 8.51),
    (7.00, 8.65), (6.65, 8.62), (6.30, 8.66),
    (8.07, 6.62), (8.02, 6.88), (8.05, 7.12), (8.01, 7.40),
    (7.92, 6.30), (7.88, 6.55), (7.91, 6.79), (7.87, 7.01), (7.93, 7.26), (7.89, 7.52),
    (7.77, 6.05), (7.73, 6.33), (7.76, 6.58), (7.72, 6.81), (7.78, 7.07), (7.74, 7.31), (7.71, 7.58),
    (7.62, 5.88), (7.58, 6.14), (7.61, 6.42), (7.57, 6.66), (7.63, 6.90), (7.59, 7.17), (7.56, 7.43), (7.60, 7.72),
    (7.47, 5.72), (7.43, 5.99), (7.46, 6.27), (7.42, 6.51), (7.48, 6.78), (7.44, 7.02), (7.41, 7.28), (7.45, 7.56),
    (7.43, 7.86),
    (7.32, 5.60), (7.28, 5.85), (7.31, 6.12), (7.27, 6.38), (7.33, 6.63), (7.29, 6.90), (7.26, 7.14), (7.30, 7.41),
    (7.28, 7.70), (7.31, 8.00),
    (7.17, 5.44), (7.13, 5.71), (7.16, 5.98), (7.12, 6.24), (7.18, 6.50), (7.14, 6.75), (7.11, 7.02), (7.15, 7.28),
    (7.13, 7.55), (7.16, 7.84), (7.14, 8.12),
    (7.02, 5.33), (6.98, 5.58), (7.01, 5.84), (6.97, 6.10), (7.03, 6.37), (6.99, 6.62), (6.96, 6.88), (7.00, 7.15),
    (6.98, 7.42), (7.01, 7.70), (6.99, 8.00), (7.02, 8.28),
    (6.87, 5.20), (6.83, 5.45), (6.86, 5.72), (6.82, 5.97), (6.88, 6.24), (6.84, 6.49), (6.81, 6.76), (6.85, 7.03),
    (6.83, 7.30), (6.86, 7.58), (6.84, 7.86), (6.87, 8.18),
    (6.72, 5.08), (6.68, 5.33), (6.71, 5.58), (6.67, 5.84), (6.73, 6.10), (6.69, 6.37), (6.66, 6.63), (6.70, 6.90),
    (6.68, 7.18), (6.71, 7.46), (6.69, 7.74), (6.72, 8.05), (6.68, 8.35),
    (6.57, 4.96), (6.53, 5.22), (6.56, 5.46), (6.52, 5.71), (6.58, 5.97), (6.54, 6.23), (6.51, 6.49), (6.55, 6.76),
    (6.53, 7.03), (6.56, 7.32), (6.54, 7.60), (6.57, 7.92), (6.53, 8.22),
    (6.42, 4.85), (6.38, 5.09), (6.41, 5.33), (6.37, 5.57), (6.43, 5.83), (6.39, 6.09), (6.36, 6.35), (6.40, 6.62),
    (6.38, 6.90), (6.41, 7.18), (6.39, 7.48), (6.42, 7.80), (6.38, 8.10),
    (6.27, 4.74), (6.23, 4.97), (6.26, 5.20), (6.22, 5.44), (6.28, 5.69), (6.24, 5.95), (6.21, 6.21), (6.25, 6.48),
    (6.23, 6.76), (6.26, 7.06), (6.24, 7.38), (6.27, 7.70), (6.23, 8.02),
    (6.12, 4.63), (6.08, 4.85), (6.11, 5.08), (6.07, 5.31), (6.13, 5.56), (6.09, 5.81), (6.06, 6.07), (6.10, 6.34),
    (6.08, 6.62), (6.11, 6.93), (6.09, 7.25), (6.12, 7.58),
    (5.97, 4.55), (5.93, 4.76), (5.96, 4.97), (5.92, 5.19), (5.98, 5.43), (5.94, 5.67), (5.91, 5.92), (5.95, 6.19),
    (5.93, 6.48), (5.96, 6.80), (5.94, 7.15),
    (5.82, 4.47), (5.78, 4.66), (5.81, 4.87), (5.77, 5.08), (5.83, 5.30), (5.79, 5.54), (5.76, 5.78), (5.80, 6.04),
    (5.78, 6.33), (5.81, 6.66),
    (5.67, 4.42), (5.63, 4.59), (5.66, 4.78), (5.62, 4.98), (5.68, 5.19), (5.64, 5.42), (5.61, 5.66), (5.65, 5.92),
    (5.63, 6.20), (5.66, 6.55),
    (5.52, 4.38), (5.48, 4.53), (5.51, 4.70), (5.47, 4.89), (5.53, 5.09), (5.49, 5.30), (5.46, 5.54), (5.50, 5.80),
    (5.48, 6.10),
    (5.37, 4.36), (5.33, 4.50), (5.36, 4.65), (5.32, 4.82), (5.38, 5.00), (5.34, 5.20), (5.31, 5.43), (5.35, 5.70),
    (5.22, 4.37), (5.18, 4.48), (5.21, 4.61), (5.17, 4.76), (5.23, 4.93), (5.19, 5.12), (5.16, 5.34),
    (5.07, 4.35), (5.03, 4.46), (5.06, 4.58), (5.02, 4.71), (5.08, 4.87), (5.04, 5.05), (5.01, 5.25),
    (4.92, 4.36), (4.88, 4.47), (4.91, 4.57), (4.87, 4.69), (4.93, 4.83), (4.89, 5.00),
    (4.77, 4.35), (4.73, 4.45), (4.76, 4.56), (4.72, 4.68), (4.78, 4.81),
    (4.62, 4.37), (4.58, 4.47), (4.61, 4.58), (4.57, 4.72),
    (4.50, 4.38), (4.46, 4.49), (4.49, 4.62),
    (7.95, 6.92), (7.82, 7.18), (7.68, 6.98), (7.85, 6.70), (7.52, 7.05), (7.65, 7.30), (7.38, 6.80), (7.50, 6.55),
    (7.22, 6.60),
]

# histogram bin edges and counts of the residuals
lab_edges = [-3.40, -2.88, -2.37, -1.86, -1.34, -0.83, -0.32, 0.19, 0.71, 1.22, 1.74, 2.25, 2.77, 3.28, 3.80]
lab_counts = [3, 15, 21, 71, 251, 419, 247, 72, 35, 19, 7, 1, 1, 2]

fit_edges = [-3.02, -2.51, -2.00, -1.49, -0.98, -0.47, 0.04, 0.55, 1.06, 1.57, 2.08, 2.59, 3.10, 3.61]
fit_counts = [3, 17, 15, 41, 110, 374, 457, 102, 18, 12, 6, 1, 1]

sphere_edges = [-4.25, -3.78, -3.32, -2.86, -2.40, -1.94, -1.48, -1.02, -0.55, -0.08, 0.37, 0.84, 1.29,
                1.75, 2.22, 2.68, 3.14, 3.61]
sphere_counts = [4, 5, 12, 30, 23, 60, 58, 90, 141, 247, 245, 193, 26, 7, 5, 3, 4]

scatter_sets = [lab_pts, fit_pts, sphere_pts]
hist_sets = [(lab_edges, lab_counts), (fit_edges, fit_counts), (sphere_edges, sphere_counts)]

blue = '#1f77b4'
W, H = 1411, 825


def px_box(x0, y0, x1, y1):
    return [x0 / W, 1 - y1 / H, (x1 - x0) / W, (y1 - y0) / H]


scatter_boxes = [px_box(88, 42, 470, 425), px_box(549, 42, 932, 425), px_box(1008, 42, 1392, 425)]
hist_boxes = [px_box(104, 516, 481, 757), px_box(558, 516, 937, 757), px_box(1013, 516, 1392, 757)]

fig = plt.figure(figsize=(W / 100, H / 100), dpi=100)

first_hist = None
for i in range(3):
    ax = fig.add_axes(scatter_boxes[i])
    pts = np.array(scatter_sets[i])
    ax.scatter(pts[:, 0], pts[:, 1], s=16, color=blue, alpha=0.35, zorder=2)
    lims = [mag_ticks[-1], mag_ticks[0]]
    ax.plot(lims, lims, '--', color='#555555', lw=1.5, zorder=3)
    ax.set_xlim(lims)
    ax.set_ylim(lims)
    ax.set_xticks(mag_ticks)
    ax.set_yticks(mag_ticks)
    ax.tick_params(labelsize=17)
    ax.set_title(titles[i], fontsize=20, pad=4)
    ax.set_xlabel('Measured AB Magnitude', fontsize=18.5, labelpad=2)
    if i == 0:
        ax.set_ylabel('Calculated AB Magnitude', fontsize=18.5, labelpad=4)
    else:
        ax.tick_params(labelleft=False)
    ax.add_patch(Rectangle((0.665, 0.021), 0.31, 0.118, transform=ax.transAxes,
                           facecolor='#d6d6d6', edgecolor='none', zorder=4))
    ax.text(0.82, 0.08, 'R = ' + r_values[i], transform=ax.transAxes, ha='center', va='center',
            fontsize=18, fontweight='bold', family=['Lato', 'DejaVu Sans'], zorder=5)

    hx = fig.add_axes(hist_boxes[i], sharey=first_hist)
    if first_hist is None:
        first_hist = hx
    edges, counts = hist_sets[i]
    hx.hist(edges[:-1], bins=edges, weights=counts, color=blue)
    hx.set_xlim(-4, 4)
    hx.set_xticks(err_ticks)
    hx.set_yticks(count_ticks)
    hx.tick_params(labelsize=17)
    hx.set_xlabel('Error (AB Magnitude)', fontsize=18.5, labelpad=2)
    if i == 0:
        hx.set_ylabel('# of Residuals', fontsize=18.5)
    else:
        hx.tick_params(labelleft=False)

first_hist.set_ylim(0, 480)

fig.savefig('out.png', dpi=100)
